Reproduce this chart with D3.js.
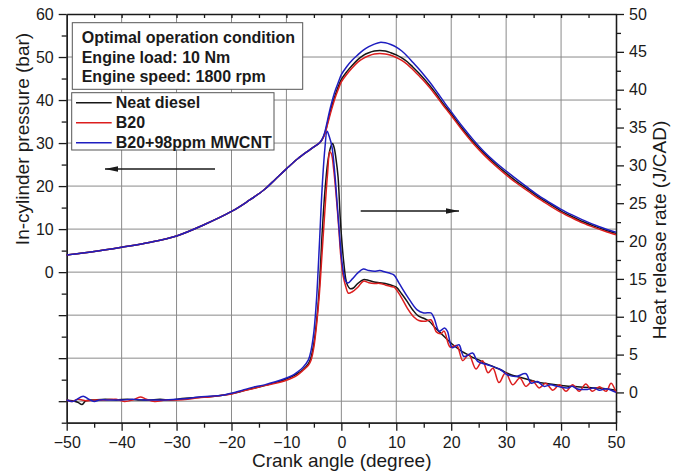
<!DOCTYPE html>
<html><head><meta charset="utf-8">
<script src="https://cdn.jsdelivr.net/npm/d3@7"></script>
<style>
body{margin:0;background:#fff;}
svg{display:block;font-family:"Liberation Sans",Arial,sans-serif;}
</style></head><body>
<svg id="chart" width="681" height="475"></svg>
<script>
// ---------- DATA ----------
const seriesNames = ["Neat diesel", "B20", "B20+98ppm MWCNT"];
const seriesColors = ["#161616", "#dc1e1e", "#1e1ec0"];
const infoLines = ["Optimal operation condition", "Engine load: 10 Nm", "Engine speed: 1800 rpm"];

const xTickLabels = [-50, -40, -30, -20, -10, 0, 10, 20, 30, 40, 50];
const yLeftTickLabels = [0, 10, 20, 30, 40, 50, 60];
const yRightTickLabels = [0, 5, 10, 15, 20, 25, 30, 35, 40, 45, 50];

// in-cylinder pressure (bar)
const pressureAngles = [-50,-45,-40,-35,-30,-25,-20,-17,-14,-12,-10,-8,-6,-5,-4,-3.5,
  -3,-2.5,-2,-1.5,-1,-0.5,
  0,1,2,3,4,5,6,7,8,9,10,11,12,13,14,15,16,17,18,19,20,
  22,24,26,28,30,32,34,36,38,40,42,44,46,48,50];
const pressureDiesel = [4.0,4.8,5.8,6.9,8.4,11.0,14.1,16.5,19.2,21.6,24.0,26.3,28.2,29.1,30.0,30.8,
  32.3,34.8,37.4,39.6,41.6,43.3,
  44.8,46.6,48.1,49.4,50.4,51.0,51.4,51.5,51.4,51.0,50.5,49.8,48.9,47.7,46.4,45.0,43.5,41.9,40.1,38.4,36.8,
  33.4,30.3,27.6,25.2,23.0,21.0,19.2,17.4,15.8,14.2,12.9,11.7,10.7,9.8,9.0];
const pressureB20 = [4.0,4.8,5.8,6.9,8.4,11.0,14.1,16.5,19.2,21.6,24.0,26.3,28.2,29.1,30.0,30.8,
  32.1,34.4,36.8,39.0,41.0,42.7,
  44.2,46.0,47.5,48.8,49.7,50.3,50.7,50.8,50.7,50.4,49.9,49.2,48.3,47.1,45.8,44.5,43.0,41.4,39.7,38.0,36.4,
  33.0,29.9,27.2,24.8,22.6,20.6,18.8,17.0,15.4,13.9,12.6,11.4,10.4,9.5,8.7];
const pressureCNT = [4.0,4.8,5.8,6.9,8.4,11.0,14.1,16.5,19.2,21.6,24.0,26.3,28.2,29.1,30.0,30.9,
  32.6,35.4,38.2,40.6,42.6,44.3,
  45.9,47.8,49.3,50.5,51.6,52.4,53.0,53.4,53.3,52.9,52.3,51.4,50.2,48.8,47.4,45.9,44.3,42.6,40.8,39.0,37.3,
  33.9,30.8,28.0,25.6,23.5,21.5,19.6,17.7,16.1,14.6,13.3,12.1,11.0,10.1,9.3];

// heat release rate (J/CAD) as [crank angle, value]
const hrrDiesel = [[-50,-1.0],[-49,-1.1],[-48,-1.3],[-47.2,-1.6],[-46.5,-1.1],[-45,-1.0],[-43,-0.9],[-41,-1.0],
  [-39,-0.9],[-37,-1.0],[-35,-1.0],[-33,-0.9],[-31,-1.0],[-29,-0.8],[-27,-0.7],[-25,-0.6],[-23,-0.5],[-21,-0.3],
  [-19,0.0],[-17,0.4],[-15,0.7],[-13,1.1],[-11,1.5],[-10,1.8],[-9,2.1],[-8,2.5],[-7,3.0],[-6,3.8],[-5.5,4.7],
  [-5,6.5],[-4.5,9.5],[-4,14.0],[-3.5,21.0],[-3,26.5],[-2.5,30.3],[-2,32.3],[-1.6,32.9],[-1.3,32.3],[-1.0,31.0],
  [-0.6,28.5],[-0.2,23.0],[0.2,19.0],[0.45,17.1],[0.8,15.0],[1.1,14.2],[1.6,13.7],[2.2,13.8],[3,14.4],[4,14.9],
  [5,14.8],[6,14.6],[7,14.5],[8,14.4],[9,14.2],[10,13.9],[11,13.0],[12,12.0],[13,10.9],[14,10.1],[15,9.8],
  [16,9.4],[17,8.6],[18,7.9],[19,7.2],[20,6.5],[21,5.9],[22,5.4],[23,5.0],[24,4.6],[25,4.3],[26,3.9],[27,3.6],
  [28,3.3],[29,3.0],[30,2.6],[31,2.3],[32,2.1],[33,1.9],[34,1.7],[35,1.5],[36,1.3],[37,1.2],[38,1.1],[39,1.0],
  [40,0.9],[42,0.8],[44,0.7],[46,0.6],[48,0.5],[50,0.3]];
const hrrB20 = [[-50,-1.0],[-49,-1.2],[-48,-0.9],[-46.5,-1.1],[-45,-1.0],[-43,-1.0],[-41,-0.9],[-39.5,-1.2],
  [-38,-1.0],[-36.6,-0.6],[-35.5,-0.9],[-34,-1.2],[-32,-1.0],[-30,-1.0],[-28,-0.9],[-26,-0.7],[-24,-0.6],
  [-22,-0.4],[-20,-0.2],[-18,0.2],[-16,0.5],[-14,0.9],[-12,1.2],[-10,1.6],[-9,1.9],[-8,2.3],[-7,2.9],[-6,3.6],
  [-5.5,4.3],[-5,6.0],[-4.5,9.0],[-4,13.0],[-3.5,18.5],[-3,24.0],[-2.5,29.0],[-2.1,31.8],[-1.8,31.5],
  [-1.4,29.5],[-1.0,26.5],[-0.5,22.0],[-0.1,18.0],[0.3,15.5],[0.8,14.0],[1.3,13.1],[2,13.3],[3,13.9],[4,14.7],
  [5,14.5],[6,14.4],[7,14.4],[8,14.2],[9,14.0],[9.6,13.9],[10.8,12.7],[12,11.15],[13.2,9.96],[14.1,9.5],
  [15.3,9.4],[16.3,9.6],[17.3,8.0],[18.1,7.75],[18.7,8.1],[19.8,6.0],[21.0,6.2],[22.1,4.2],[23.2,5.0],
  [24.5,3.1],[25.7,4.2],[26.7,2.6],[27.6,3.2],[28.7,1.3],[29.9,2.6],[31.2,1.0],[32.5,1.9],[33.6,0.8],
  [34.8,1.5],[36.0,0.6],[37.2,1.2],[38.5,0.3],[39.7,1.0],[40.9,0.15],[42.1,1.0],[43.3,0.15],[44.5,1.1],
  [45.7,0.15],[47.0,0.75],[48.2,0.15],[49.1,1.2],[50,0.0]];
const hrrCNT = [[-50,-1.0],[-49,-1.2],[-48.3,-1.0],[-47,-0.5],[-46,-0.9],[-45,-1.2],[-44,-1.0],[-42,-1.0],
  [-40,-1.0],[-38,-0.9],[-36,-1.0],[-34,-1.0],[-32,-1.0],[-30,-0.9],[-28,-0.8],[-26,-0.6],[-24,-0.5],
  [-22,-0.4],[-20,-0.1],[-18,0.3],[-16,0.7],[-14,1.0],[-12,1.4],[-10,1.9],[-9,2.2],[-8,2.7],[-7,3.3],[-6,4.3],
  [-5.5,5.6],[-5,8.0],[-4.5,12.5],[-4,19.5],[-3.5,27.0],[-3,32.2],[-2.6,34.5],[-2.2,33.8],[-1.7,32.4],
  [-1.2,29.0],[-0.8,25.3],[-0.4,21.5],[0,18.0],[0.4,15.8],[0.8,14.7],[1.2,14.45],[2,15.0],[3,15.8],[4,16.3],
  [5,16.1],[6,16.0],[7,16.1],[8,15.9],[9,15.7],[9.6,15.5],[10.5,14.45],[12,12.7],[13.8,10.9],[15,10.5],
  [16.3,10.5],[16.9,9.8],[17.8,8.1],[18.8,8.5],[19.3,8.1],[20.2,5.9],[21.4,6.3],[22.3,4.75],[23.9,5.2],
  [24.8,4.1],[26.6,3.66],[29,3.0],[30.2,2.34],[31.8,2.1],[33.6,2.47],[34.5,1.24],[35.7,1.45],[36.9,0.8],
  [38.1,1.0],[39.4,0.8],[41.2,0.6],[42,0.8],[43,0.45],[44.8,0.4],[46,0.6],[47,0.3],[48.2,0.5],[50,0.0]];

// ---------- CHART ----------
const svg = d3.select("#chart");
const L = 66.7, R = 616, T = 14, B = 422.7;
const x = d3.scaleLinear().domain([-50, 50]).range([L, R]);
const yL = d3.scaleLinear().domain([-35, 60]).range([B, T]);
const yR = d3.scaleLinear().domain([-4, 50]).range([B, T]);
const ink = "#1a1a1a";

// grid
const grid = svg.append("g").attr("stroke", "#8a8a8a").attr("stroke-width", 1);
grid.selectAll("line.v").data(d3.range(-40, 41, 10)).join("line")
  .attr("x1", d => x(d)).attr("x2", d => x(d)).attr("y1", T).attr("y2", B);
grid.selectAll("line.h").data(d3.range(-30, 51, 10)).join("line")
  .attr("x1", L).attr("x2", R).attr("y1", d => yL(d)).attr("y2", d => yL(d));

function styleAxis(g) {
  g.selectAll("path, line").attr("stroke", ink).attr("stroke-width", 1.3);
  g.selectAll("text").attr("fill", ink).style("font-size", "16px")
    .style("font-family", '"Liberation Sans", Arial, sans-serif');
}

// bottom axis
svg.append("g").attr("transform", `translate(0,${B})`)
  .call(d3.axisBottom(x).tickValues(d3.range(-45, 50, 10)).tickSize(5).tickFormat("").tickSizeOuter(0)).call(styleAxis);
svg.append("g").attr("transform", `translate(0,${B})`)
  .call(d3.axisBottom(x).tickValues(xTickLabels).tickSize(8).tickPadding(6).tickSizeOuter(0)
    .tickFormat(d3.format("d"))).call(styleAxis);
// top axis (inward ticks)
svg.append("g").attr("transform", `translate(0,${T})`)
  .call(d3.axisTop(x).tickValues(d3.range(-45, 50, 5)).tickSize(-4).tickFormat("").tickSizeOuter(0)).call(styleAxis);

// left axis
svg.append("g").attr("transform", `translate(${L},0)`)
  .call(d3.axisLeft(yL).tickValues(d3.range(-35, 60, 10)).tickSize(5).tickFormat("").tickSizeOuter(0)).call(styleAxis);
svg.append("g").attr("transform", `translate(${L},0)`)
  .call(d3.axisLeft(yL).tickValues(d3.range(-30, 61, 10)).tickSize(8).tickPadding(5).tickSizeOuter(0)
    .tickFormat(d => yLeftTickLabels.includes(d) ? d : "")).call(styleAxis);

// right axis
svg.append("g").attr("transform", `translate(${R},0)`)
  .call(d3.axisRight(yR).tickValues(d3.range(-2.5, 50, 5)).tickSize(5).tickFormat("").tickSizeOuter(0)).call(styleAxis);
svg.append("g").attr("transform", `translate(${R},0)`)
  .call(d3.axisRight(yR).tickValues(yRightTickLabels).tickSize(8).tickPadding(5).tickSizeOuter(0)
    .tickFormat(d3.format("d"))).call(styleAxis);

// axis titles
svg.append("text").attr("x", 341.7).attr("y", 467).attr("text-anchor", "middle")
  .attr("fill", ink).style("font-size", "19px").text("Crank angle (degree)");
svg.append("text").attr("transform", "translate(29,139) rotate(-90)").attr("text-anchor", "middle")
  .attr("fill", ink).style("font-size", "19px").text("In-cylinder pressure (bar)");
svg.append("text").attr("transform", "translate(666,230) rotate(-90)").attr("text-anchor", "middle")
  .attr("fill", ink).style("font-size", "19px").text("Heat release rate (J/CAD)");

// lines
const curve = d3.curveCatmullRom.alpha(0.5);
const pLine = d3.line().x(d => x(d[0])).y(d => yL(d[1])).curve(curve);
const hLine = d3.line().x(d => x(d[0])).y(d => yR(d[1])).curve(curve);
const pressureSets = [pressureDiesel, pressureB20, pressureCNT];
const hrrSets = [hrrDiesel, hrrB20, hrrCNT];
const lines = svg.append("g").attr("fill", "none").attr("stroke-width", 1.5);
[0, 1, 2].forEach(i => {
  lines.append("path").attr("stroke", seriesColors[i])
    .attr("d", pLine(pressureAngles.map((a, k) => [a, pressureSets[i][k]])));
  lines.append("path").attr("stroke", seriesColors[i]).attr("d", hLine(hrrSets[i]));
});

// arrows
function arrow(x1, x2, y) {
  const g = svg.append("g");
  g.append("line").attr("x1", x1).attr("x2", x2).attr("y1", y).attr("y2", y)
    .attr("stroke", ink).attr("stroke-width", 1.3);
  const dir = Math.sign(x2 - x1);
  g.append("path").attr("fill", ink)
    .attr("d", `M${x2},${y} L${x2 - dir * 13},${y - 2.8} L${x2 - dir * 13},${y + 2.8} Z`);
}
arrow(215, 105, 169);
arrow(360.7, 459, 211);

// info box
svg.append("rect").attr("x", 72.3).attr("y", 22.7).attr("width", 230.4).attr("height", 66.6)
  .attr("fill", "#fff").attr("stroke", "#555").attr("stroke-width", 1);
infoLines.forEach((t, i) => {
  svg.append("text").attr("x", 81.7).attr("y", 43.3 + i * 19.5).attr("fill", ink)
    .style("font-size", "16px").style("font-weight", "bold").text(t);
});

// legend
svg.append("rect").attr("x", 71.7).attr("y", 92.7).attr("width", 202.3).attr("height", 57.3)
  .attr("fill", "#fff").attr("stroke", "#555").attr("stroke-width", 1);
seriesNames.forEach((n, i) => {
  const yy = 102.7 + i * 20;
  svg.append("line").attr("x1", 76).attr("x2", 111.7).attr("y1", yy).attr("y2", yy)
    .attr("stroke", seriesColors[i]).attr("stroke-width", 1.5);
  svg.append("text").attr("x", 115.7).attr("y", yy + 5.6).attr("fill", ink)
    .style("font-size", "16px").style("font-weight", "bold").text(n);
});
</script>
</body></html>
